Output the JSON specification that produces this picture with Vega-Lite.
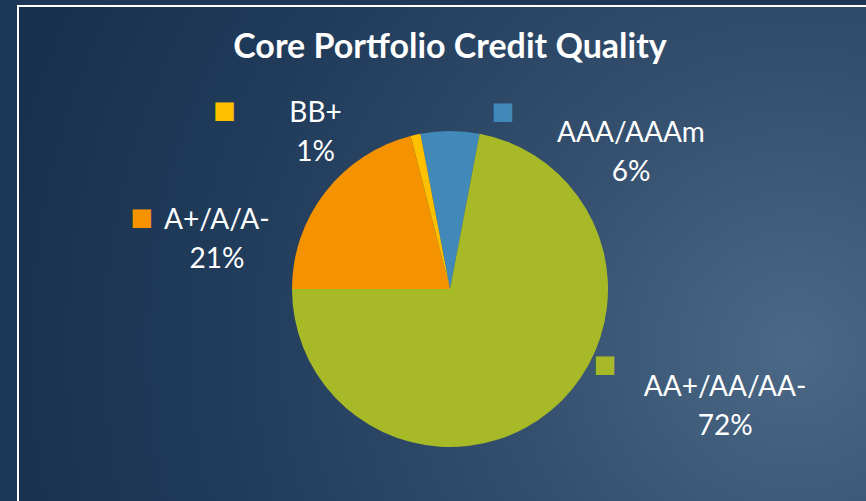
{
  "$schema": "https://vega.github.io/schema/vega-lite/v6.json",
  "autosize": "none",
  "width": 864,
  "height": 566,
  "padding": {"left": 18, "top": 6, "right": 0, "bottom": 0},
  "background": "#1c3757",
  "config": {"view": {"stroke": null}},
  "title": {
    "text": "Core Portfolio Credit Quality",
    "font": "Lato",
    "fontSize": 34,
    "fontWeight": "bold",
    "color": "#ffffff",
    "anchor": "middle",
    "baseline": "alphabetic",
    "offset": -87
  },
  "datasets": {
    "ratings": [
      {"rating": "AAA/AAAm", "pct": 6, "seq": 1, "label": "AAA/AAAm\n6%"},
      {"rating": "AA+/AA/AA-", "pct": 72, "seq": 2, "label": "AA+/AA/AA-\n72%"},
      {"rating": "A+/A/A-", "pct": 21, "seq": 3, "label": "A+/A/A-\n21%"},
      {"rating": "BB+", "pct": 1, "seq": 4, "label": "BB+\n1%"}
    ]
  },
  "resolve": {"scale": {"theta": "shared", "color": "shared"}},
  "layer": [
    {
      "data": {"values": [{}]},
      "mark": {
        "type": "rect",
        "stroke": "#ffffff",
        "strokeWidth": 2,
        "fill": {
          "gradient": "radial",
          "x1": 0.9, "y1": 0.57, "r1": 0,
          "x2": 0.9, "y2": 0.57, "r2": 0.95,
          "stops": [
            {"offset": 0, "color": "#4b6887"},
            {"offset": 0.35, "color": "#334f6d"},
            {"offset": 0.7, "color": "#213c5b"},
            {"offset": 1, "color": "#17304d"}
          ]
        }
      },
      "encoding": {}
    },
    {
      "data": {"name": "ratings"},
      "mark": {"type": "arc", "outerRadius": 158},
      "encoding": {
        "theta": {"field": "pct", "type": "quantitative", "stack": true,
          "scale": {"domain": [0, 100], "range": [-0.188496, 6.094689]}},
        "order": {"field": "seq", "type": "quantitative"},
        "color": {"field": "rating", "type": "nominal", "legend": null,
          "scale": {"domain": ["AAA/AAAm", "AA+/AA/AA-", "A+/A/A-", "BB+"],
                    "range": ["#4189b9", "#a8b928", "#f49200", "#ffc000"]}}
      }
    },
    {
      "data": {"name": "ratings"},
      "mark": {"type": "text", "font": "Lato", "fontSize": 28, "color": "#ffffff", "align": "center", "baseline": "alphabetic", "lineBreak": "\n", "lineHeight": 39, "radius": 190, "dx": 181, "dy": 43},
      "encoding": {
        "theta": {"field": "pct", "type": "quantitative", "stack": true},
        "order": {"field": "seq", "type": "quantitative"},
        "text": {"condition": {"test": "datum.rating === 'AAA/AAAm'", "field": "label"}, "value": ""}
      }
    },
    {
      "data": {"name": "ratings"},
      "mark": {"type": "text", "font": "Lato", "fontSize": 28, "color": "#ffffff", "align": "center", "baseline": "alphabetic", "lineBreak": "\n", "lineHeight": 39, "radius": 190, "dx": 154, "dy": -39},
      "encoding": {
        "theta": {"field": "pct", "type": "quantitative", "stack": true},
        "order": {"field": "seq", "type": "quantitative"},
        "text": {"condition": {"test": "datum.rating === 'AA+/AA/AA-'", "field": "label"}, "value": ""}
      }
    },
    {
      "data": {"name": "ratings"},
      "mark": {"type": "text", "font": "Lato", "fontSize": 28, "color": "#ffffff", "align": "center", "baseline": "alphabetic", "lineBreak": "\n", "lineHeight": 39, "radius": 190, "dx": -83, "dy": 56},
      "encoding": {
        "theta": {"field": "pct", "type": "quantitative", "stack": true},
        "order": {"field": "seq", "type": "quantitative"},
        "text": {"condition": {"test": "datum.rating === 'A+/A/A-'", "field": "label"}, "value": ""}
      }
    },
    {
      "data": {"name": "ratings"},
      "mark": {"type": "text", "font": "Lato", "fontSize": 28, "color": "#ffffff", "align": "center", "baseline": "alphabetic", "lineBreak": "\n", "lineHeight": 39, "radius": 190, "dx": -93, "dy": 18},
      "encoding": {
        "theta": {"field": "pct", "type": "quantitative", "stack": true},
        "order": {"field": "seq", "type": "quantitative"},
        "text": {"condition": {"test": "datum.rating === 'BB+'", "field": "label"}, "value": ""}
      }
    },
    {
      "data": {"name": "ratings"},
      "mark": {"type": "text", "font": "DejaVu Sans", "fontSize": 24, "align": "center", "baseline": "middle", "radius": 190, "dx": 53, "dy": 13},
      "encoding": {
        "theta": {"field": "pct", "type": "quantitative", "stack": true},
        "order": {"field": "seq", "type": "quantitative"},
        "color": {"field": "rating", "type": "nominal", "legend": null},
        "text": {"condition": {"test": "datum.rating === 'AAA/AAAm'", "value": "■"}, "value": ""}
      }
    },
    {
      "data": {"name": "ratings"},
      "mark": {"type": "text", "font": "DejaVu Sans", "fontSize": 24, "align": "center", "baseline": "middle", "radius": 190, "dx": 34, "dy": -70},
      "encoding": {
        "theta": {"field": "pct", "type": "quantitative", "stack": true},
        "order": {"field": "seq", "type": "quantitative"},
        "color": {"field": "rating", "type": "nominal", "legend": null},
        "text": {"condition": {"test": "datum.rating === 'AA+/AA/AA-'", "value": "■"}, "value": ""}
      }
    },
    {
      "data": {"name": "ratings"},
      "mark": {"type": "text", "font": "DejaVu Sans", "fontSize": 24, "align": "center", "baseline": "middle", "radius": 190, "dx": -158, "dy": 45},
      "encoding": {
        "theta": {"field": "pct", "type": "quantitative", "stack": true},
        "order": {"field": "seq", "type": "quantitative"},
        "color": {"field": "rating", "type": "nominal", "legend": null},
        "text": {"condition": {"test": "datum.rating === 'A+/A/A-'", "value": "■"}, "value": ""}
      }
    },
    {
      "data": {"name": "ratings"},
      "mark": {"type": "text", "font": "DejaVu Sans", "fontSize": 24, "align": "center", "baseline": "middle", "radius": 190, "dx": -184, "dy": 7},
      "encoding": {
        "theta": {"field": "pct", "type": "quantitative", "stack": true},
        "order": {"field": "seq", "type": "quantitative"},
        "color": {"field": "rating", "type": "nominal", "legend": null},
        "text": {"condition": {"test": "datum.rating === 'BB+'", "value": "■"}, "value": ""}
      }
    }
  ]
}
